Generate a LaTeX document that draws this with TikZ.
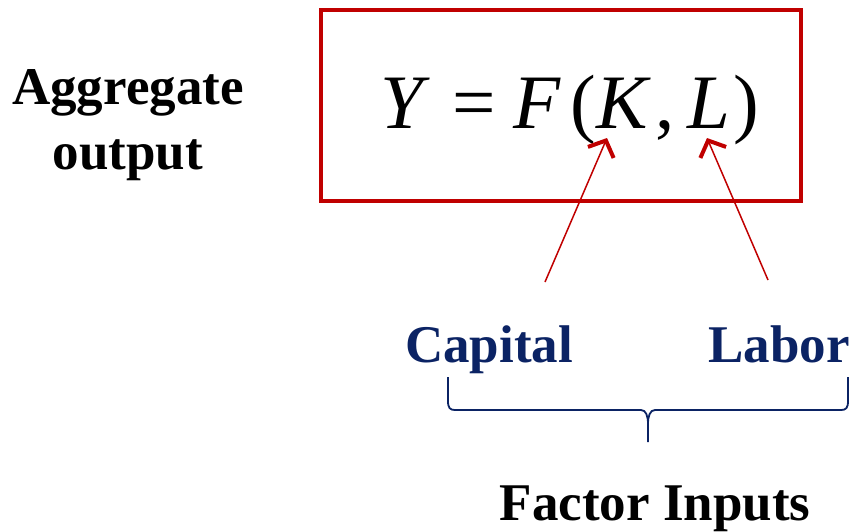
\documentclass[tikz,border=0pt]{standalone}
\usepackage{fontspec}
\setmainfont{Liberation Serif}
\usepackage{xcolor}
\usetikzlibrary{arrows.meta,positioning,calc}
\definecolor{rojo}{HTML}{C00000}
\definecolor{marino}{HTML}{0B2364}
\newcommand{\Fsz}{\fontsize{53}{65}\selectfont\bfseries}

\begin{document}
\begin{tikzpicture}[x=1pt,y=-1pt,
  lbl/.style={inner sep=0pt,font=\Fsz,anchor=base},
  inp/.style={lbl,text=marino},
  flecha/.style={draw=rojo,line width=1.5pt,-{Straight Barb[length=13pt,width=28pt,line width=4pt]}}]
\useasboundingbox (0,0) rectangle (853,531);
\node[lbl,align=center,anchor=center] (agg) at (128,125) {Aggregate\\output};
\draw[rojo,line width=4pt] (321,10) rectangle (801,201);
\node[inner sep=0pt,anchor=base,font=\fontsize{77}{80}\selectfont] (eq) at (570,128)
  {\textit{Y}\kern22pt=\kern18pt\textit{F}\kern9pt(\textit{K}\kern5pt,\kern13pt\textit{L}\kern3pt)};
\node[inp] (cap) at (489,362) {Capital};
\node[inp] (lab) at (779,362) {Labor};
\node[lbl] (fi) at (655,520) {Factor Inputs};
\coordinate (ktail) at (545,282); \coordinate (khead) at (607,138);
\coordinate (ltail) at (768,280); \coordinate (lhead) at (707,138);
\draw[flecha] (ktail)--(khead); \draw[flecha] (ltail)--(lhead);
% brace under the two inputs
\coordinate (bl) at (448,377); \coordinate (br) at (848,377); \coordinate (bt) at (648,442);
\draw[marino,line width=1.8pt] (bl) -- ++(0,24) .. controls ++(0,7) and ++(-5,0) .. (455,410)
  -- (641,410) .. controls ++(5,0) and ++(0,-8) .. (648,424) -- (bt)
  (648,424) .. controls ++(0,-8) and ++(-5,0) .. (655,410) -- (841,410)
  .. controls ++(5,0) and ++(0,7) .. (848,401) -- (br);
\end{tikzpicture}
\end{document}
